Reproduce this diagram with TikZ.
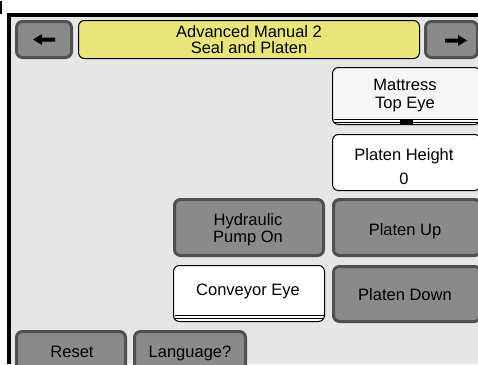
\documentclass[tikz,border=0pt]{standalone}
\usepackage{fontspec}
\setmainfont{Liberation Sans}
\usetikzlibrary{calc}
\definecolor{bg}{HTML}{E6E6E6}
\definecolor{btngray}{HTML}{8A8A8A}
\definecolor{btnedge}{HTML}{505050}
\definecolor{titley}{HTML}{E8E67A}
\definecolor{lightbtn}{HTML}{F6F6F6}
\begin{document}
\begin{tikzpicture}[x=1pt,y=-1pt,
 shp/.style={inner sep=0pt, outer sep=0pt, rounded corners=6pt},
 gbtn/.style={shp, fill=btngray, draw=btnedge, line width=3pt},
 wbtn/.style={shp, fill=white, draw=black, line width=1pt},
 ybtn/.style={shp, fill=titley, draw=black, line width=1pt},
 lbl/.style={anchor=base, inner sep=0pt, font=\fontsize{16.5}{17}\selectfont},
 sepline/.style={draw=black, line width=0.8pt},
]
\useasboundingbox (0,0) rectangle (478,364);
\clip (0,0) rectangle (478,364);
\fill[white] (0,0) rectangle (478,364);
\fill[bg] (11,16.5) rectangle (478,364);
\fill[black] (7,13) rectangle (478,16.5);
\fill[black] (7,13) rectangle (11,364);
\fill[black] (0,1) rectangle (1.5,14);

% top row
\node[gbtn, minimum width=55pt, minimum height=36pt] (larr) at (44,39.5) {};
\fill[black] ($(larr.center)+(-11,0)$) -- ($(larr.center)+(-2,-5.5)$) -- ($(larr.center)+(-2,-2)$) -- ($(larr.center)+(11,-2)$) -- ($(larr.center)+(11,2)$) -- ($(larr.center)+(-2,2)$) -- ($(larr.center)+(-2,5.5)$) -- cycle;

\node[ybtn, minimum width=341pt, minimum height=38pt] (title) at (249,39.5) {};
\node[lbl] (t1) at (249,37) {Advanced Manual 2};
\node[lbl] (t2) at (249,53) {Seal and Platen};

\node[gbtn, minimum width=52pt, minimum height=36pt] (rarr) at (451.5,39.5) {};
\coordinate (rc) at (456,40.5);
\fill[black] ($(rc)+(11,0)$) -- ($(rc)+(2,-5.5)$) -- ($(rc)+(2,-2)$) -- ($(rc)+(-11,-2)$) -- ($(rc)+(-11,2)$) -- ($(rc)+(2,2)$) -- ($(rc)+(2,5.5)$) -- cycle;

% Mattress top eye
\node[wbtn, fill=lightbtn, minimum width=148pt, minimum height=57pt] (mat) at (406.5,96) {};
\draw[sepline] ($(mat.south west)+(1,-5.5)$) -- ($(mat.south east)+(0,-5.5)$);
\draw[sepline] ($(mat.south west)+(1,-2.5)$) -- ($(mat.south east)+(0,-2.5)$);
\fill[black] (400,119) rectangle (413,125);
\node[lbl] (mat1) at (405,90) {Mattress};
\node[lbl] (mat2) at (405,108) {Top Eye};

% Platen height
\node[wbtn, minimum width=148pt, minimum height=56pt] (ph) at (406.5,162.5) {};
\node[lbl] (ph1) at (404,160) {Platen Height};
\node[lbl] (ph2) at (404,184) {0};

% Hydraulic pump
\node[gbtn, minimum width=149pt, minimum height=56pt] (hyd) at (249,227.5) {};
\node[lbl] (hyd1) at (248,225) {Hydraulic};
\node[lbl] (hyd2) at (248,242) {Pump On};

% Platen up
\node[gbtn, minimum width=147pt, minimum height=56pt] (pu) at (407,227.5) {};
\node[lbl] (pu1) at (405,235) {Platen Up};

% Conveyor eye
\node[wbtn, minimum width=151pt, minimum height=56pt] (conv) at (249,293.5) {};
\draw[sepline] ($(conv.south west)+(1,-6.5)$) -- ($(conv.south east)+(-1,-6.5)$);
\draw[sepline] ($(conv.south west)+(1,-3)$) -- ($(conv.south east)+(-1,-3)$);
\node[lbl] (conv1) at (248,295) {Conveyor Eye};

% Platen down
\node[gbtn, minimum width=147pt, minimum height=55pt] (pd) at (407,294) {};
\node[lbl] (pd1) at (405,300) {Platen Down};

% bottom row
\node[gbtn, minimum width=109pt, minimum height=42pt] (reset) at (71,352.5) {};
\node[lbl] (reset1) at (72,357) {Reset};
\node[gbtn, minimum width=111pt, minimum height=42pt] (lang) at (190,352.5) {};
\node[lbl] (lang1) at (190,357) {Language?};
\end{tikzpicture}
\end{document}
